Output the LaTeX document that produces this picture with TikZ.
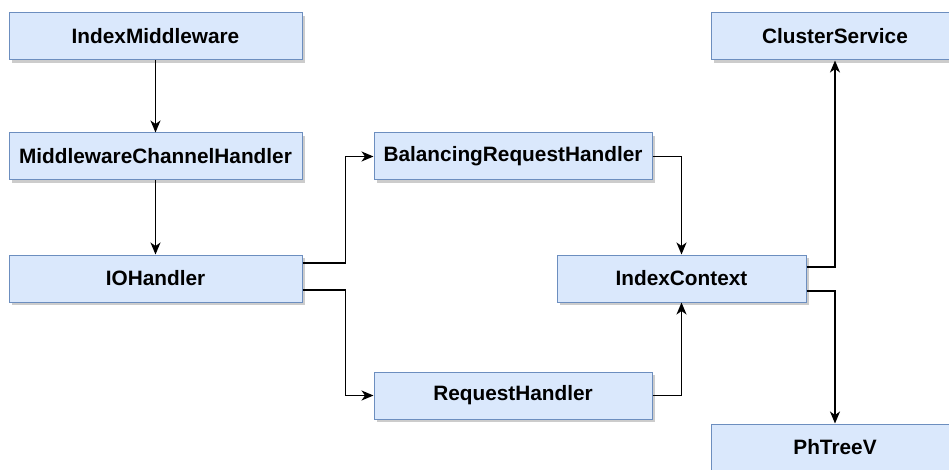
\documentclass[tikz,border=0pt]{standalone}
\usepackage{fontspec}
\setmainfont{Liberation Sans}
\usetikzlibrary{shadows,arrows.meta}
\definecolor{boxfill}{HTML}{DAE8FC}
\definecolor{boxdraw}{HTML}{6C8EBF}
\tikzset{
  box/.style={draw=boxdraw, fill=boxfill, line width=1pt, minimum height=47pt, inner sep=0pt,
    font=\fontsize{20.8}{23}\selectfont\bfseries,
    drop shadow={shadow xshift=3pt, shadow yshift=-3pt, fill=black!20, opacity=1}},
  arr/.style={line width=1.5pt, -{Stealth[length=12pt,width=10pt,inset=3.5pt]}}
}
\begin{document}
\begin{tikzpicture}[x=1pt,y=1pt]
\useasboundingbox (0,0) rectangle (949,-470);
\node[box, minimum width=293pt] (im) at (155.5,-36.5) {IndexMiddleware};
\node[box, minimum width=293pt] (mch) at (155.5,-156.5) {MiddlewareChannelHandler};
\node[box, minimum width=293pt] (io) at (155.5,-278.5) {IOHandler};
\node[box, minimum width=278pt] (bal) at (513,-156.5) {BalancingRequestHandler};
\node[box, minimum width=278pt] (req) at (513,-395.5) {RequestHandler};
\node[box, minimum width=249pt] (ctx) at (681.5,-278.5) {IndexContext};
\node[box, minimum width=248pt] (cs) at (835,-36.5) {ClusterService};
\node[box, minimum width=248pt] (ph) at (835,-447.5) {PhTreeV};
\draw[arr] (im) -- (mch);
\draw[arr] (mch) -- (io);
\draw[arr] ([yshift=15.5pt]io.east) -- ++(43,0) |- (bal.west);
\draw[arr] ([yshift=-11.5pt]io.east) -- ++(43,0) |- (req.west);
\draw[arr] (bal.east) -| (ctx.north);
\draw[arr] (req.east) -| (ctx.south);
\draw[arr] ([yshift=11.5pt]ctx.east) -| (cs.south);
\draw[arr] ([yshift=-12.5pt]ctx.east) -| (ph.north);
\end{tikzpicture}
\end{document}
